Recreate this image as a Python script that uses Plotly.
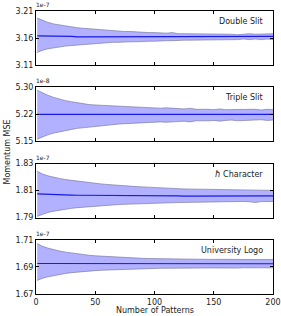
import plotly.graph_objects as go

# Number of patterns (sampled)
patterns = [1] + list(range(5, 201, 5))

# Double Slit (x1e-7)
mean_double = [3.164, 3.164, 3.163, 3.163, 3.163, 3.163, 3.163, 3.162, 3.162, 3.162, 3.162,
               3.162, 3.162, 3.162, 3.162, 3.162, 3.163, 3.163, 3.162, 3.162, 3.162, 3.162,
               3.162, 3.162, 3.162, 3.163, 3.163, 3.162, 3.162, 3.162, 3.162, 3.163, 3.163,
               3.162, 3.162, 3.163, 3.163, 3.163, 3.162, 3.162, 3.163]
upper_double = [3.197, 3.193, 3.189, 3.186, 3.184, 3.182, 3.181, 3.179, 3.178, 3.177, 3.176,
                3.175, 3.174, 3.173, 3.173, 3.172, 3.172, 3.171, 3.171, 3.170, 3.170, 3.169,
                3.169, 3.170, 3.168, 3.168, 3.168, 3.167, 3.168, 3.167, 3.167, 3.168, 3.167,
                3.167, 3.166, 3.167, 3.168, 3.167, 3.167, 3.168, 3.168]
lower_double = [3.133, 3.137, 3.140, 3.142, 3.144, 3.145, 3.146, 3.147, 3.148, 3.149, 3.150,
                3.151, 3.151, 3.152, 3.152, 3.153, 3.153, 3.153, 3.154, 3.154, 3.154, 3.155,
                3.155, 3.155, 3.156, 3.156, 3.156, 3.156, 3.157, 3.156, 3.157, 3.157, 3.157,
                3.157, 3.157, 3.158, 3.157, 3.158, 3.157, 3.158, 3.157]

# Triple Slit (x1e-8)
mean_triple = [5.225, 5.225, 5.225, 5.225, 5.225, 5.224, 5.224, 5.224, 5.224, 5.224, 5.224,
               5.224, 5.224, 5.224, 5.224, 5.224, 5.224, 5.224, 5.225, 5.225, 5.225, 5.225,
               5.224, 5.224, 5.224, 5.224, 5.224, 5.224, 5.224, 5.224, 5.225, 5.225, 5.225,
               5.225, 5.225, 5.225, 5.225, 5.225, 5.225, 5.225, 5.225]
upper_triple = [5.292, 5.285, 5.278, 5.272, 5.267, 5.263, 5.260, 5.257, 5.254, 5.252, 5.251,
                5.250, 5.249, 5.248, 5.247, 5.246, 5.245, 5.244, 5.244, 5.243, 5.242, 5.242,
                5.243, 5.241, 5.241, 5.240, 5.242, 5.239, 5.240, 5.239, 5.238, 5.240, 5.238,
                5.238, 5.240, 5.238, 5.238, 5.239, 5.237, 5.239, 5.238]
lower_triple = [5.156, 5.162, 5.168, 5.173, 5.177, 5.180, 5.183, 5.186, 5.188, 5.190, 5.192,
                5.194, 5.195, 5.197, 5.198, 5.199, 5.200, 5.201, 5.202, 5.203, 5.203, 5.204,
                5.203, 5.205, 5.205, 5.206, 5.204, 5.207, 5.206, 5.207, 5.208, 5.206, 5.208,
                5.209, 5.207, 5.208, 5.209, 5.208, 5.210, 5.208, 5.209]

# hbar Character (x1e-7)
mean_hbar = [1.8076, 1.8074, 1.8072, 1.8070, 1.8069, 1.8068, 1.8067, 1.8066, 1.8066, 1.8065, 1.8065,
             1.8064, 1.8064, 1.8064, 1.8063, 1.8063, 1.8063, 1.8062, 1.8062, 1.8062, 1.8062, 1.8061,
             1.8061, 1.8061, 1.8061, 1.8060, 1.8060, 1.8060, 1.8060, 1.8060, 1.8060, 1.8061, 1.8061,
             1.8061, 1.8061, 1.8060, 1.8060, 1.8060, 1.8061, 1.8061, 1.8061]
upper_hbar = [1.8245, 1.8225, 1.8210, 1.8198, 1.8190, 1.8182, 1.8176, 1.8170, 1.8165, 1.8160, 1.8155,
              1.8150, 1.8146, 1.8142, 1.8138, 1.8135, 1.8132, 1.8130, 1.8128, 1.8125, 1.8122, 1.8120,
              1.8118, 1.8116, 1.8115, 1.8113, 1.8112, 1.8110, 1.8112, 1.8108, 1.8107, 1.8106, 1.8108,
              1.8104, 1.8103, 1.8105, 1.8102, 1.8101, 1.8103, 1.8100, 1.8102]
lower_hbar = [1.7910, 1.7925, 1.7938, 1.7948, 1.7956, 1.7963, 1.7969, 1.7974, 1.7978, 1.7982, 1.7986,
              1.7989, 1.7992, 1.7995, 1.7997, 1.7999, 1.8001, 1.8003, 1.8004, 1.8006, 1.8007, 1.8009,
              1.8010, 1.8011, 1.8012, 1.8013, 1.8014, 1.8015, 1.8014, 1.8016, 1.8017, 1.8018, 1.8017,
              1.8019, 1.8019, 1.8020, 1.8018, 1.8012, 1.8019, 1.8021, 1.8020]

# University Logo (x1e-7)
mean_logo = [1.6926, 1.6926, 1.6925, 1.6925, 1.6925, 1.6925, 1.6924, 1.6924, 1.6924, 1.6924, 1.6924,
             1.6924, 1.6924, 1.6924, 1.6924, 1.6924, 1.6924, 1.6924, 1.6924, 1.6924, 1.6924, 1.6924,
             1.6924, 1.6924, 1.6924, 1.6924, 1.6924, 1.6924, 1.6924, 1.6924, 1.6924, 1.6924, 1.6924,
             1.6924, 1.6924, 1.6924, 1.6924, 1.6924, 1.6924, 1.6924, 1.6924]
upper_logo = [1.7074, 1.7055, 1.7040, 1.7028, 1.7018, 1.7010, 1.7003, 1.6997, 1.6992, 1.6987, 1.6983,
              1.6980, 1.6977, 1.6974, 1.6972, 1.6970, 1.6968, 1.6966, 1.6964, 1.6963, 1.6962, 1.6961,
              1.6960, 1.6961, 1.6959, 1.6958, 1.6959, 1.6957, 1.6958, 1.6957, 1.6956, 1.6957, 1.6956,
              1.6956, 1.6957, 1.6955, 1.6956, 1.6955, 1.6956, 1.6955, 1.6955]
lower_logo = [1.6800, 1.6815, 1.6827, 1.6837, 1.6845, 1.6852, 1.6858, 1.6863, 1.6867, 1.6870, 1.6873,
              1.6876, 1.6878, 1.6880, 1.6882, 1.6883, 1.6885, 1.6886, 1.6887, 1.6888, 1.6889, 1.6890,
              1.6891, 1.6890, 1.6892, 1.6892, 1.6891, 1.6893, 1.6892, 1.6893, 1.6893, 1.6892, 1.6893,
              1.6893, 1.6892, 1.6894, 1.6893, 1.6894, 1.6893, 1.6894, 1.6894]

titles = ["Double Slit", "Triple Slit", "<i>ħ</i> Character", "University Logo"]
exponents = ["1e-7", "1e-8", "1e-7", "1e-7"]
tick_vals = [[3.11, 3.16, 3.21], [5.15, 5.225, 5.30], [1.79, 1.81, 1.83], [1.67, 1.69, 1.71]]
tick_text = [["3.11", "3.16", "3.21"], ["5.15", "5.22", "5.30"],
             ["1.79", "1.81", "1.83"], ["1.67", "1.69", "1.71"]]
x_ticks = [0, 50, 100, 150, 200]

means = [mean_double, mean_triple, mean_hbar, mean_logo]
uppers = [upper_double, upper_triple, upper_hbar, upper_logo]
lowers = [lower_double, lower_triple, lower_hbar, lower_logo]

W, H = 281, 316
ml, mr, mt, mb = 36, 8, 11, 22
plot_h = H - mt - mb
panel_h = 54
step = 76.33
domains = []
for i in range(4):
    top = mt + i * step
    bot = top + panel_h
    domains.append([(H - mb - bot) / plot_h, (H - mb - top) / plot_h])

fig = go.Figure()
font_family = "DejaVu Sans"
fill_col = "rgba(40,40,255,0.36)"
edge_col = "rgba(110,110,150,0.75)"
line_col = "#1a1ae6"

annotations = []
for i in range(4):
    xa = "x" if i == 0 else f"x{i+1}"
    ya = "y" if i == 0 else f"y{i+1}"
    fig.add_trace(go.Scatter(x=patterns, y=lowers[i], mode="lines",
                             line=dict(color=edge_col, width=0.8),
                             xaxis=xa, yaxis=ya, showlegend=False, hoverinfo="skip"))
    fig.add_trace(go.Scatter(x=patterns, y=uppers[i], mode="lines",
                             line=dict(color=edge_col, width=0.8), fill="tonexty",
                             fillcolor=fill_col,
                             xaxis=xa, yaxis=ya, showlegend=False, hoverinfo="skip"))
    fig.add_trace(go.Scatter(x=patterns, y=means[i], mode="lines",
                             line=dict(color=line_col, width=1.2),
                             xaxis=xa, yaxis=ya, showlegend=False))
    axis_common = dict(showline=True, linecolor="black", linewidth=1, mirror="ticks",
                       ticks="inside", ticklen=3, tickcolor="black", tickwidth=0.8,
                       showgrid=False, zeroline=False, automargin=False,
                       tickfont=dict(family=font_family, size=8, color="#222"))
    xkey = "xaxis" if i == 0 else f"xaxis{i+1}"
    ykey = "yaxis" if i == 0 else f"yaxis{i+1}"
    fig.update_layout(**{
        xkey: dict(axis_common, domain=[0, 1], range=[0, 200], tickvals=x_ticks,
                   showticklabels=(i == 3), anchor=ya),
        ykey: dict(axis_common, domain=domains[i], range=[tick_vals[i][0], tick_vals[i][-1]],
                   tickvals=tick_vals[i], ticktext=tick_text[i], anchor=xa),
    })
    annotations.append(dict(text=exponents[i], xref="paper", yref="paper",
                            x=0, y=domains[i][1], xanchor="left", yanchor="bottom",
                            showarrow=False, xshift=-2, yshift=1,
                            font=dict(family=font_family, size=6, color="#222")))
    annotations.append(dict(text=titles[i], xref="paper", yref="paper",
                            x=1, y=domains[i][1], xanchor="right", yanchor="top",
                            showarrow=False, xshift=-8, yshift=-4,
                            font=dict(family=font_family, size=8, color="#222")))

annotations.append(dict(text="Momentum MSE", xref="paper", yref="paper",
                        x=0, y=0.5, xanchor="center", yanchor="middle", textangle=-90,
                        showarrow=False, xshift=-29,
                        font=dict(family=font_family, size=8, color="#222")))
annotations.append(dict(text="Number of Patterns", xref="paper", yref="paper",
                        x=0.5, y=0, xanchor="center", yanchor="top",
                        showarrow=False, yshift=-10,
                        font=dict(family=font_family, size=8, color="#222")))

fig.update_layout(width=W, height=H, margin=dict(l=ml, r=mr, t=mt, b=mb),
                  plot_bgcolor="white", paper_bgcolor="white",
                  annotations=annotations, showlegend=False)

fig.write_html("out.html", config={"displayModeBar": False},
               post_script="document.body.style.margin='0';document.body.style.overflow='hidden';")
